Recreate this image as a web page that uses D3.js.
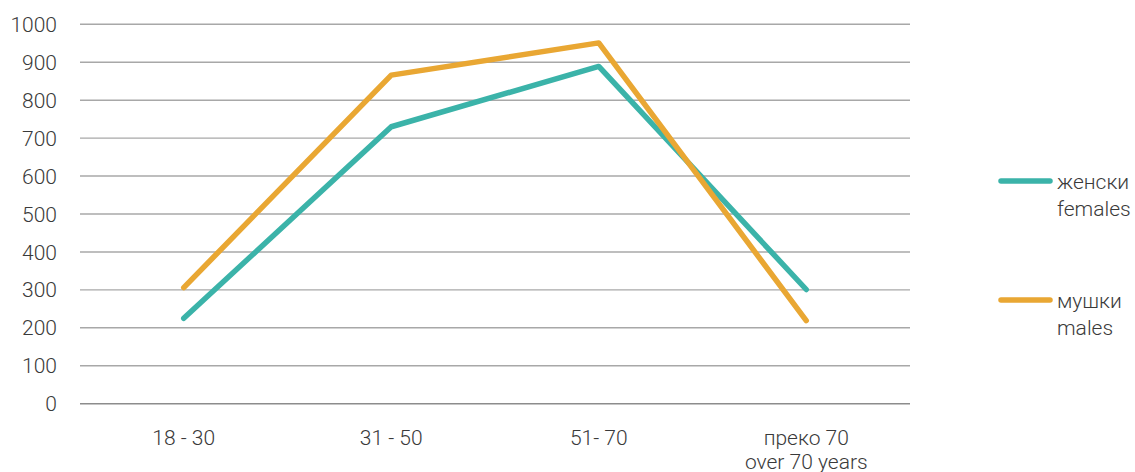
<!DOCTYPE html>
<html><head><meta charset="utf-8">
<script src="https://cdn.jsdelivr.net/npm/d3@7"></script>
<style>
body{margin:0;background:#fff;}
text{font-family:Roboto,"Noto Sans",sans-serif;font-weight:300;fill:#3a3a3a;}
</style></head>
<body><svg id="c" width="1135" height="472"></svg>
<script>
const categories = [["18 - 30"],["31 - 50"],["51- 70"],["преко 70","over 70 years"]];
const females = [225, 730, 889, 301];
const males = [306, 866, 951, 219];
const yTicks = [0,100,200,300,400,500,600,700,800,900,1000];
const seriesNames = [["женски","females"],["мушки","males"]];
const colors = ["#3bb3a9","#e9a733"];

const svg = d3.select("#c");
const x = d3.scaleBand().domain(d3.range(categories.length)).range([80,910]);
const y = d3.scaleLinear().domain([0,1000]).range([403.7,24.3]);
const FS = 21;

const grid = svg.append("g");
grid.selectAll("line").data(yTicks).join("line")
  .attr("x1",80).attr("x2",910)
  .attr("y1",d=>y(d)).attr("y2",d=>y(d))
  .attr("stroke",d=>d===0?"#8c8c8c":"#a8a8a8").attr("stroke-width",1.4);

svg.append("g").selectAll("text").data(yTicks).join("text")
  .attr("x",57).attr("y",d=>y(d)).attr("dy","0.36em")
  .attr("text-anchor","end").attr("font-size",FS).text(d=>d);

const xl = svg.append("g");
categories.forEach((lines,i)=>{
  lines.forEach((t,j)=>{
    xl.append("text").attr("x",x(i)+x.bandwidth()/2).attr("y",437+j*24).attr("dy","0.36em")
      .attr("text-anchor","middle").attr("font-size",FS).text(t);
  });
});

const line = d3.line().x((d,i)=>x(i)+x.bandwidth()/2).y(d=>y(d));
[females, males].forEach((s,k)=>{
  svg.append("path").datum(s).attr("d",line).attr("fill","none")
    .attr("stroke",colors[k]).attr("stroke-width",5.5)
    .attr("stroke-linecap","round").attr("stroke-linejoin","round");
});

const legY = [181, 300];
seriesNames.forEach((names,k)=>{
  svg.append("line").attr("x1",1001).attr("x2",1050).attr("y1",legY[k]).attr("y2",legY[k])
    .attr("stroke",colors[k]).attr("stroke-width",5.5).attr("stroke-linecap","round");
  names.forEach((t,j)=>{
    svg.append("text").attr("x",1057).attr("y",legY[k]+j*27).attr("dy","0.36em")
      .attr("font-size",FS).text(t);
  });
});
</script></body></html>
